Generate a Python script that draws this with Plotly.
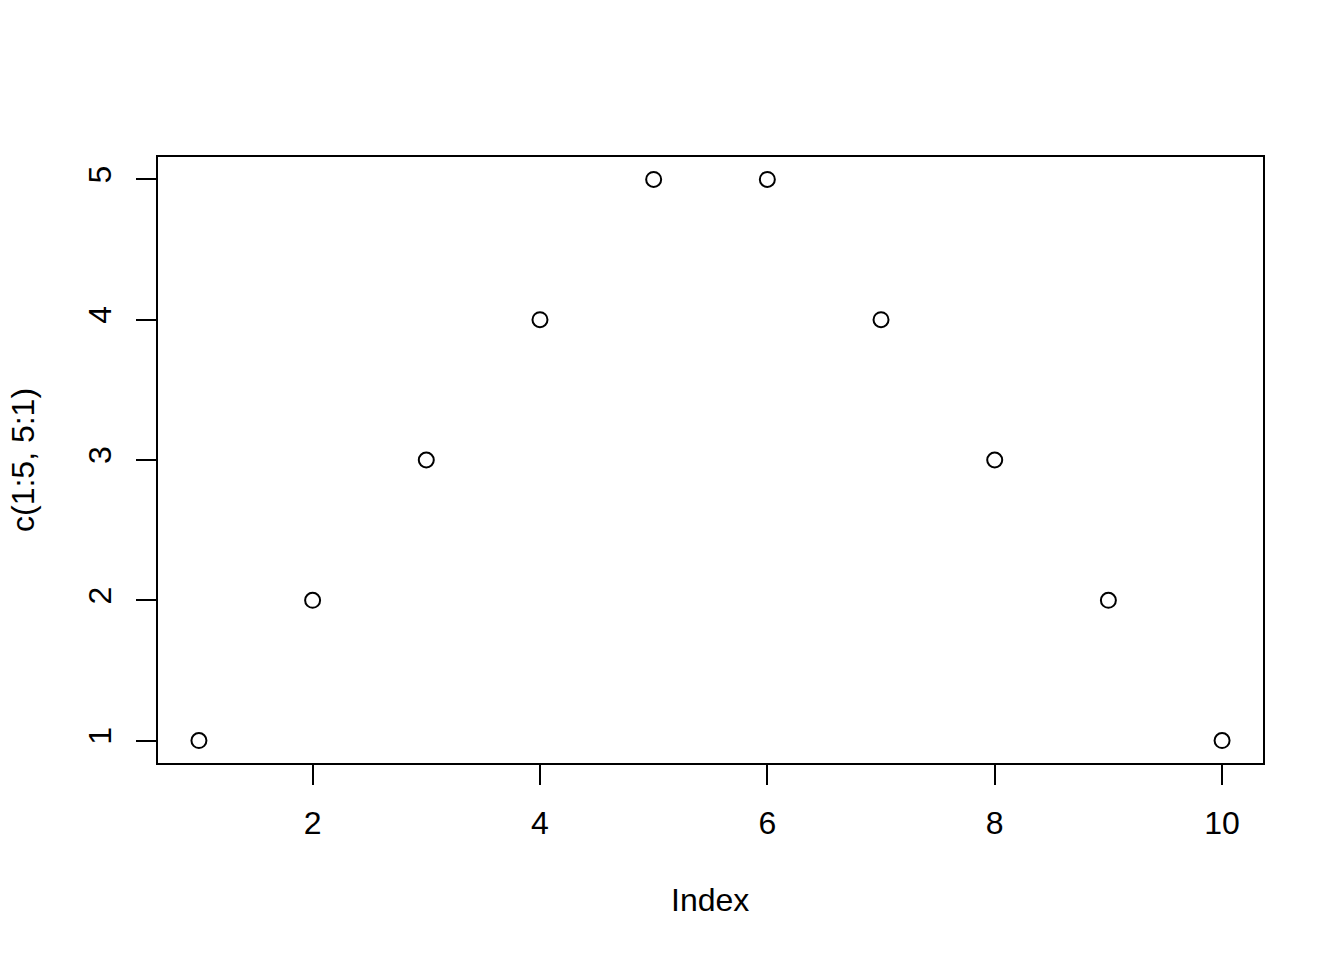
import plotly.graph_objects as go

index = [1, 2, 3, 4, 5, 6, 7, 8, 9, 10]
values = [1, 2, 3, 4, 5, 5, 4, 3, 2, 1]
x_ticks = [2, 4, 6, 8, 10]
y_ticks = [1, 2, 3, 4, 5]

W, H = 1344, 960
L, R, T, B = 158, 1344 - 1263, 157, 960 - 763
pw, ph = W - L - R, H - T - B

fig = go.Figure()
fig.add_trace(go.Scatter(
    x=index, y=values, mode="markers",
    marker=dict(symbol="circle-open", size=15, color="black", line=dict(width=2, color="black")),
    showlegend=False, hoverinfo="x+y",
))

font = dict(family="Liberation Sans, Arial, Helvetica, sans-serif", size=32, color="black")
axis_common = dict(
    showgrid=False, zeroline=False, showline=True, linecolor="black", linewidth=2,
    mirror=True, ticks="outside", ticklen=20, tickwidth=2, tickcolor="black",
    tickfont=font,
)
fig.update_layout(
    width=W, height=H,
    margin=dict(l=L, r=R, t=T, b=B, pad=0),
    paper_bgcolor="white", plot_bgcolor="white",
    xaxis=dict(range=[0.64, 10.36], tickvals=x_ticks, ticktext=[str(v) for v in x_ticks],
               ticklabelstandoff=11, **axis_common),
    yaxis=dict(range=[0.84, 5.16], tickvals=y_ticks, ticktext=[str(v) for v in y_ticks],
               tickangle=-90, ticklabelstandoff=12, **axis_common),
    annotations=[
        dict(text="Index", xref="paper", yref="paper", x=(710 - L) / pw,
             y=(763 - 900) / ph, xanchor="center", yanchor="middle", showarrow=False, font=font),
        dict(text="c(1:5, 5:1)", xref="paper", yref="paper", x=(23 - L) / pw,
             y=(763 - 460) / ph, xanchor="center", yanchor="middle", textangle=-90,
             showarrow=False, font=font),
    ],
)
fig.write_html(
    "out.html",
    config={"displayModeBar": False},
    post_script="document.body.style.margin='0';document.body.style.overflow='hidden';",
)
